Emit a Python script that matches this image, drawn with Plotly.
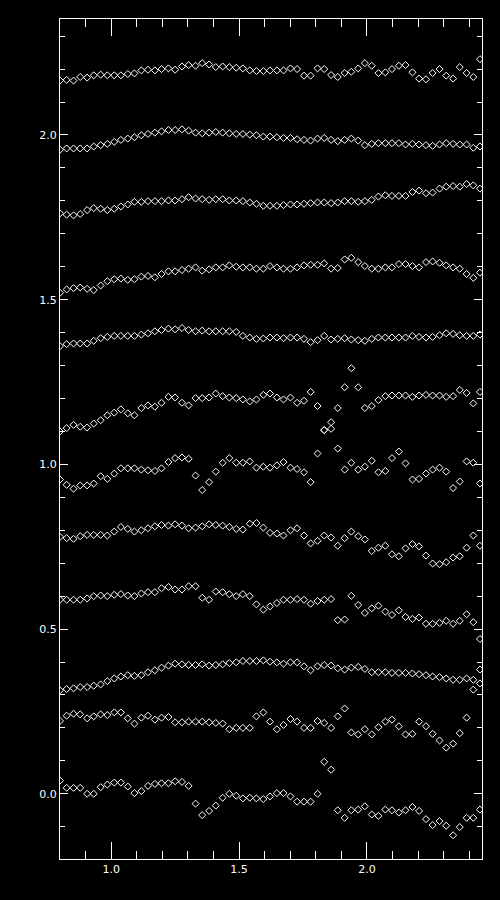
import plotly.graph_objects as go

x_vals = [0.800, 0.826, 0.853, 0.879, 0.906, 0.932, 0.959, 0.985, 1.012, 1.038,
          1.065, 1.091, 1.118, 1.144, 1.171, 1.197, 1.224, 1.250, 1.277, 1.303,
          1.330, 1.356, 1.383, 1.409, 1.436, 1.462, 1.489, 1.515, 1.542, 1.568,
          1.595, 1.621, 1.648, 1.674, 1.701, 1.727, 1.754, 1.780, 1.807, 1.833,
          1.860, 1.886, 1.913, 1.939, 1.966, 1.992, 2.019, 2.045, 2.072, 2.098,
          2.125, 2.151, 2.178, 2.204, 2.231, 2.257, 2.284, 2.310, 2.337, 2.363,
          2.390, 2.416, 2.442]

s1 = [2.165,2.167,2.165,2.176,2.174,2.181,2.183,2.181,2.181,2.181,2.185,2.187,2.196,2.198,2.196,2.200,2.202,2.198,2.208,2.212,2.210,2.218,2.214,2.206,2.208,2.206,2.204,2.202,2.196,2.194,
      2.194,2.196,2.196,2.196,2.202,2.200,2.180,2.180,2.202,2.200,2.182,2.176,2.188,2.192,2.202,2.218,2.210,2.188,2.190,2.200,2.210,2.212,2.190,2.171,2.169,2.188,2.200,2.180,2.171,2.206,2.188,2.176,2.230]
s2 = [1.955,1.959,1.959,1.959,1.959,1.965,1.969,1.973,1.979,1.985,1.989,1.993,1.999,2.003,2.007,2.011,2.015,2.015,2.017,2.013,2.007,2.005,2.007,2.009,2.007,2.005,2.003,2.003,2.001,1.999,
      1.995,1.995,1.993,1.991,1.991,1.987,1.985,1.983,1.989,1.991,1.985,1.981,1.985,1.989,1.983,1.969,1.973,1.975,1.975,1.975,1.975,1.971,1.973,1.971,1.969,1.967,1.971,1.975,1.973,1.971,1.971,1.961,1.965]
s3 = [1.762,1.758,1.756,1.760,1.772,1.778,1.776,1.772,1.776,1.783,1.789,1.797,1.797,1.799,1.799,1.799,1.801,1.801,1.805,1.811,1.807,1.805,1.803,1.805,1.805,1.801,1.801,1.799,1.795,1.791,
      1.785,1.785,1.785,1.787,1.789,1.789,1.791,1.793,1.795,1.795,1.793,1.795,1.799,1.799,1.797,1.799,1.803,1.813,1.817,1.815,1.815,1.815,1.827,1.831,1.823,1.825,1.837,1.843,1.845,1.843,1.851,1.847,1.837]
s4 = [1.521,1.531,1.535,1.537,1.533,1.529,1.543,1.556,1.562,1.564,1.560,1.562,1.570,1.572,1.568,1.578,1.586,1.586,1.590,1.594,1.598,1.588,1.592,1.598,1.598,1.604,1.600,1.598,1.598,1.594,
      1.594,1.602,1.598,1.594,1.594,1.598,1.604,1.606,1.606,1.610,1.594,1.596,1.622,1.627,1.614,1.602,1.594,1.594,1.598,1.598,1.608,1.608,1.602,1.598,1.614,1.616,1.612,1.604,1.598,1.594,1.578,1.566,1.582]
s5 = [1.359,1.365,1.367,1.367,1.367,1.375,1.383,1.387,1.390,1.390,1.390,1.390,1.394,1.398,1.404,1.408,1.412,1.410,1.414,1.408,1.404,1.406,1.404,1.404,1.404,1.404,1.402,1.390,1.385,1.381,
      1.382,1.385,1.385,1.383,1.385,1.385,1.381,1.371,1.377,1.390,1.379,1.381,1.383,1.379,1.377,1.375,1.381,1.385,1.385,1.385,1.385,1.385,1.390,1.387,1.385,1.387,1.392,1.398,1.396,1.392,1.390,1.390,1.394]
s6 = [1.100,1.110,1.120,1.114,1.112,1.124,1.134,1.149,1.157,1.167,1.155,1.149,1.171,1.179,1.175,1.187,1.205,1.203,1.187,1.179,1.201,1.201,1.203,1.215,1.207,1.203,1.201,1.197,1.191,1.197,
      1.211,1.215,1.203,1.197,1.203,1.187,1.193,1.220,1.177,1.104,1.128,1.171,1.234,1.292,1.234,1.171,1.177,1.195,1.207,1.209,1.209,1.209,1.205,1.209,1.211,1.209,1.209,1.205,1.207,1.226,1.217,1.185,1.220]
s7 = [0.954,0.938,0.926,0.936,0.936,0.942,0.964,0.956,0.972,0.988,0.988,0.988,0.984,0.982,0.980,0.988,1.007,1.019,1.021,1.017,0.966,0.922,0.946,0.978,1.005,1.019,1.005,1.005,1.009,0.990,
      0.993,0.990,0.997,1.007,0.990,0.986,0.976,0.946,1.033,1.104,1.108,1.048,0.984,1.005,0.984,0.993,1.011,0.976,0.980,1.019,1.039,1.003,0.954,0.956,0.972,0.984,0.990,0.978,0.928,0.948,1.009,1.005,0.942]
s8 = [0.780,0.776,0.774,0.782,0.786,0.786,0.786,0.784,0.796,0.810,0.804,0.796,0.800,0.806,0.812,0.816,0.814,0.818,0.814,0.806,0.808,0.812,0.818,0.816,0.814,0.810,0.804,0.802,0.820,0.822,
      0.808,0.792,0.790,0.784,0.800,0.806,0.784,0.760,0.768,0.784,0.778,0.753,0.776,0.796,0.782,0.772,0.737,0.747,0.753,0.727,0.721,0.745,0.758,0.751,0.723,0.699,0.697,0.703,0.717,0.721,0.747,0.784,0.753]
s9 = [0.589,0.589,0.589,0.589,0.593,0.600,0.602,0.600,0.604,0.606,0.602,0.600,0.608,0.612,0.612,0.624,0.628,0.620,0.620,0.630,0.630,0.595,0.589,0.614,0.612,0.606,0.600,0.606,0.600,0.575,
      0.559,0.569,0.579,0.589,0.589,0.591,0.589,0.577,0.585,0.589,0.591,0.527,0.529,0.601,0.573,0.549,0.563,0.571,0.553,0.543,0.557,0.537,0.531,0.535,0.516,0.516,0.519,0.525,0.516,0.525,0.545,0.521,0.470]
s10 = [0.314,0.318,0.320,0.324,0.324,0.328,0.332,0.342,0.350,0.356,0.360,0.358,0.360,0.369,0.375,0.383,0.389,0.395,0.393,0.391,0.391,0.393,0.389,0.391,0.393,0.397,0.399,0.403,0.403,0.403,
       0.405,0.401,0.399,0.395,0.399,0.399,0.387,0.375,0.387,0.391,0.389,0.381,0.377,0.383,0.385,0.379,0.369,0.369,0.369,0.367,0.367,0.367,0.365,0.363,0.360,0.356,0.354,0.350,0.346,0.346,0.350,0.346,0.335]
s11 = [0.221,0.237,0.243,0.241,0.229,0.235,0.241,0.239,0.247,0.247,0.229,0.213,0.231,0.237,0.225,0.231,0.233,0.217,0.217,0.219,0.219,0.219,0.217,0.215,0.213,0.196,0.200,0.200,0.200,0.235,
       0.247,0.219,0.196,0.209,0.227,0.219,0.200,0.200,0.221,0.215,0.200,0.235,0.259,0.186,0.180,0.196,0.180,0.202,0.219,0.225,0.205,0.180,0.182,0.219,0.205,0.182,0.162,0.140,0.152,0.184,0.231,0.316,0.377]
s12 = [0.040,0.018,0.018,0.018,0.000,0.000,0.020,0.028,0.034,0.034,0.022,0.002,0.008,0.024,0.030,0.032,0.032,0.038,0.036,0.024,-0.030,-0.065,-0.052,-0.036,-0.012,0.000,-0.006,-0.014,-0.012,-0.014,
       -0.016,-0.008,0.002,0.002,-0.008,-0.024,-0.024,-0.024,0.000,0.097,0.073,-0.050,-0.073,-0.050,-0.048,-0.038,-0.063,-0.067,-0.048,-0.050,-0.057,-0.050,-0.040,-0.052,-0.077,-0.095,-0.083,-0.097,-0.126,-0.101,-0.073,-0.073,-0.048]

series = [s1, s2, s3, s4, s5, s6, s7, s8, s9, s10, s11, s12]

x_tick_vals = [1.0, 1.5, 2.0]
x_tick_text = ["1.0", "1.5", "2.0"]
y_tick_vals = [0.0, 0.5, 1.0, 1.5, 2.0]
y_tick_text = ["0.0", "0.5", "1.0", "1.5", "2.0"]

fig = go.Figure()
for s in series:
    fig.add_trace(go.Scatter(
        x=x_vals, y=s, mode="markers",
        marker=dict(symbol="diamond-open", size=5.4, color="white",
                    line=dict(color="white", width=1)),
        showlegend=False, hoverinfo="skip"))

axis_common = dict(
    showgrid=False, zeroline=False, showline=True, linecolor="white", linewidth=1,
    mirror="allticks", ticks="inside", tickcolor="white", tickwidth=1,
    tickfont=dict(family="DejaVu Sans", size=11, color="white"),
)

fig.update_xaxes(range=[0.8, 2.45], tickvals=x_tick_vals, ticktext=x_tick_text,
                 ticklen=17,
                 minor=dict(ticks="inside", ticklen=8, dtick=0.1, tick0=0,
                            tickcolor="white", tickwidth=1, showgrid=False),
                 **axis_common)
fig.update_yaxes(range=[-0.198, 2.352], tickvals=y_tick_vals, ticktext=y_tick_text,
                 ticklen=8,
                 minor=dict(ticks="inside", ticklen=5, dtick=0.1, tick0=0,
                            tickcolor="white", tickwidth=1, showgrid=False),
                 **axis_common)

fig.update_layout(
    width=500, height=900,
    paper_bgcolor="black", plot_bgcolor="black",
    margin=dict(l=60, r=18, t=19, b=41),
    showlegend=False,
)

fig.write_html(
    "out.html",
    config={"displayModeBar": False},
    post_script="document.body.style.margin='0';document.body.style.padding='0';"
                "document.body.style.background='black';"
                "document.documentElement.style.background='black';",
)
